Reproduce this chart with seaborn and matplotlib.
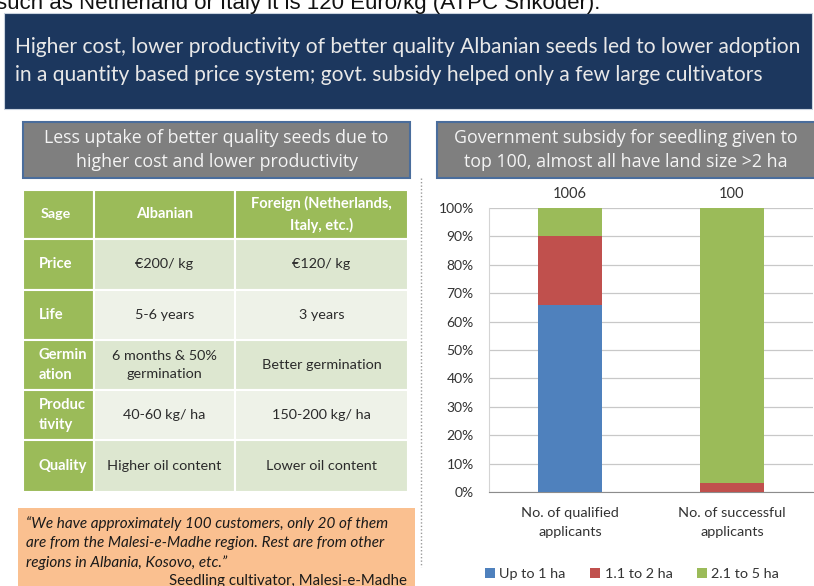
import numpy as np
import pandas as pd
import seaborn as sns
import matplotlib.pyplot as plt
from matplotlib.patches import Rectangle, Patch

# ---- data ----
top_line = "such as Netherland or Italy it is 120 Euro/kg (ATPC Shkoder)."
headline = ("Higher cost, lower productivity of better quality Albanian seeds led to lower adoption\n"
            "in a quantity based price system; govt. subsidy helped only a few large cultivators")
left_title = "Less uptake of better quality seeds due to\nhigher cost and lower productivity"
right_title = "Government subsidy for seedling given to\ntop 100, almost all have land size >2 ha"

table_header = ["Sage", "Albanian", "Foreign (Netherlands,\nItaly, etc.)"]
row_labels = ["Price", "Life", "Germin\nation", "Produc\ntivity", "Quality"]
albanian = ["€200/ kg", "5-6 years", "6 months & 50%\ngermination", "40-60 kg/ ha", "Higher oil content"]
foreign = ["€120/ kg", "3 years", "Better germination", "150-200 kg/ ha", "Lower oil content"]

quote = ("\u201cWe have approximately 100 customers, only 20 of them\n"
         "are from the Malesi-e-Madhe region. Rest are from other\n"
         "regions in Albania, Kosovo, etc.\u201d")
quote_src = "Seedling cultivator, Malesi-e-Madhe"

categories = ["No. of qualified\napplicants", "No. of successful\napplicants"]
totals = [1006, 100]
size_classes = ["Up to 1 ha", "1.1 to 2 ha", "2.1 to 5 ha"]
up_to_1 = [66, 0]
from_1_to_2 = [24, 3]
from_2_to_5 = [10, 97]

colors = ["#4f81bd", "#c0504d", "#9bbb59"]

sns.set_style("white")
plt.rcParams['font.family'] = ['Lato', 'DejaVu Sans']

W, H = 814, 586
fig = plt.figure(figsize=(W / 100, H / 100), dpi=100)

# overlay in pixel coordinates for the slide decorations
bg = fig.add_axes([0, 0, 1, 1], zorder=0)
bg.set_xlim(0, W)
bg.set_ylim(H, 0)
bg.axis("off")

# sentence from the previous slide text, cut by the crop like in the source
bg.text(-4, 9.5, top_line, fontsize=16, family="Liberation Sans", va="baseline", color="#111111")

# headline box
bg.add_patch(Rectangle((4, 13), 808, 96, facecolor="#1c375e", edgecolor="#c9d3df", lw=0.8))
bg.text(15, 61, headline, color="#e8e8e8", fontsize=15.1, va="center", ha="left", linespacing=1.45)

# section title boxes
for x0, x1, txt in [(23, 410, left_title), (437, 816, right_title)]:
    bg.add_patch(Rectangle((x0, 122), x1 - x0, 56, facecolor="#7f7f7f", edgecolor="#4a6d9c", lw=1.5))
    bg.text((x0 + min(x1, 814)) / 2, 150, txt, color="#f4f4f4", fontsize=12.8,
            ha="center", va="center", linespacing=1.42, family=["Open Sans", "DejaVu Sans"])

# table
col_x = [23, 94, 235, 408]
row_y = [190, 239, 290, 340, 390, 440, 492]
green = "#9bbb59"
shades = ["#dde7d0", "#eef2e8"]
for j, lab in enumerate(table_header):
    bg.add_patch(Rectangle((col_x[j], row_y[0]), col_x[j + 1] - col_x[j], row_y[1] - row_y[0],
                           facecolor=green, edgecolor="white", lw=1.5))
    if j == 0:
        bg.text(41, (row_y[0] + row_y[1]) / 2, lab, color="white", fontsize=10.3, weight="bold",
                ha="left", va="center")
    else:
        bg.text((col_x[j] + col_x[j + 1]) / 2, (row_y[0] + row_y[1]) / 2, lab, color="white",
                fontsize=10.5, weight="bold", ha="center", va="center", linespacing=1.6)
for i, (lab, a, f) in enumerate(zip(row_labels, albanian, foreign)):
    y0, y1 = row_y[i + 1], row_y[i + 2]
    yc = (y0 + y1) / 2
    bg.add_patch(Rectangle((col_x[0], y0), col_x[1] - col_x[0], y1 - y0,
                           facecolor=green, edgecolor="white", lw=1.5))
    for j in (1, 2):
        bg.add_patch(Rectangle((col_x[j], y0), col_x[j + 1] - col_x[j], y1 - y0,
                               facecolor=shades[i % 2], edgecolor="white", lw=1.5))
    bg.text(38.5, yc, lab, color="white", fontsize=10.6, weight="bold", ha="left", va="center",
            linespacing=1.6)
    bg.text((col_x[1] + col_x[2]) / 2, yc, a, color="#2b2b2b", fontsize=10.4, ha="center",
            va="center", linespacing=1.6)
    bg.text((col_x[2] + col_x[3]) / 2, yc, f, color="#2b2b2b", fontsize=10.4, ha="center",
            va="center", linespacing=1.6)

# quote box
bg.add_patch(Rectangle((18, 508), 397, 90, facecolor="#fac090", edgecolor="none"))
bg.text(26, 543, quote, fontsize=11, style="italic", color="#1a1a1a", ha="left", va="center",
        linespacing=1.42)
bg.text(407, 580.5, quote_src, fontsize=10.8, color="#1a1a1a", ha="right", va="center")

# dotted separator
bg.plot([421, 421], [178, 567], ls=(0, (1, 1.5)), color="#9a9a9a", lw=1)

# ---- stacked bar chart ----
ax = fig.add_axes([489 / W, 1 - 492 / H, 324 / W, 284 / H], zorder=1)
df = pd.DataFrame({"category": categories, size_classes[0]: up_to_1,
                   size_classes[1]: from_1_to_2, size_classes[2]: from_2_to_5})
cum = df[size_classes].cumsum(axis=1)
for k in range(len(size_classes) - 1, -1, -1):
    sns.barplot(x=df["category"], y=cum[size_classes[k]], color=colors[k], width=0.4,
                saturation=1, edgecolor="none", ax=ax, zorder=3)

ax.set_xlim(-0.5, 1.5)
ax.set_ylim(0, 100)
ax.set_yticks(range(0, 101, 10))
ax.set_yticklabels([f"{v}%" for v in range(0, 101, 10)])
ax.grid(axis="y", color="#c8c8c8", lw=0.9, zorder=0)
ax.set_axisbelow(True)
for s in ["top", "right"]:
    ax.spines[s].set_visible(False)
ax.spines["left"].set_color("#d4d4d4")
ax.spines["bottom"].set_color("#8c8c8c")
ax.tick_params(axis="y", length=3, color="#c8c8c8", labelsize=10, labelcolor="#333333", pad=8)
ax.tick_params(axis="x", which="major", length=0, labelsize=10.4, labelcolor="#333333", pad=11)
ax.set_xticks([-0.5, 0.5, 1.5], minor=True)
ax.tick_params(axis="x", which="minor", length=4, color="#8c8c8c")
ax.set_xlabel("")
ax.set_ylabel("")
for lbl in ax.get_xticklabels():
    lbl.set_linespacing(1.7)

for i, t in enumerate(totals):
    ax.text(i, 104.8, str(t), ha="center", va="center", fontsize=10.5, color="#333333", clip_on=False)

handles = [Patch(facecolor=c, edgecolor="none") for c in colors]
fig.legend(handles, size_classes, loc="center", bbox_to_anchor=(632 / W, 1 - 574 / H), ncol=3,
           frameon=False, fontsize=10.4, handlelength=0.7, handleheight=0.7, handletextpad=0.3,
           columnspacing=1.7, labelcolor="#333333")

fig.savefig("out.png", dpi=100)
